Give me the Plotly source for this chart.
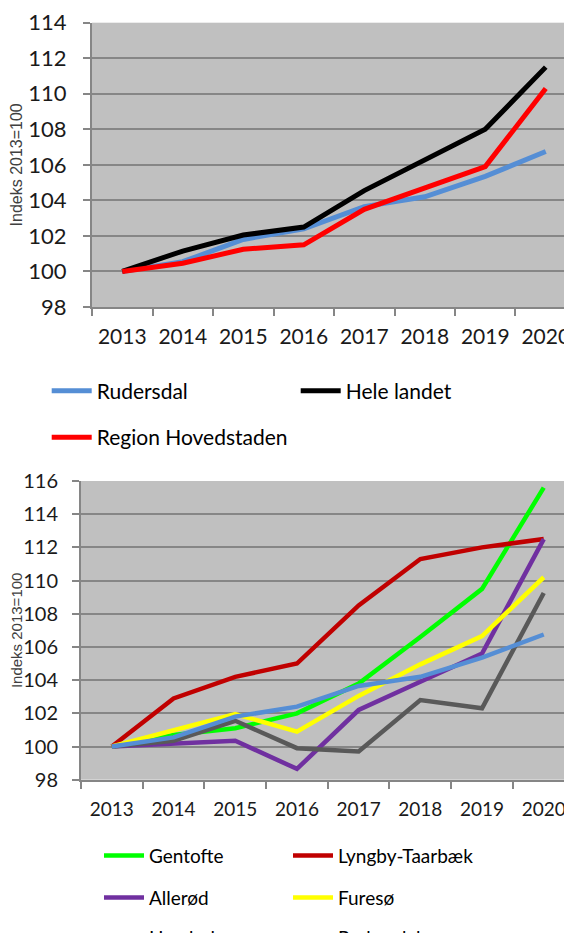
import plotly.graph_objects as go

years = ["2013", "2014", "2015", "2016", "2017", "2018", "2019", "2020"]

# Top chart
rudersdal = [100, 100.55, 101.8, 102.4, 103.65, 104.2, 105.35, 106.75]
hele_landet = [100, 101.15, 102.05, 102.5, 104.55, 106.3, 108.0, 111.5]
region_hovedstaden = [100, 100.46, 101.25, 101.5, 103.5, 104.7, 105.9, 110.3]

# Bottom chart
gentofte = [100, 100.7, 101.1, 102.0, 103.8, 106.6, 109.5, 115.6]
lyngby_taarbaek = [100, 102.9, 104.2, 105.0, 108.5, 111.3, 112.0, 112.5]
allerod = [100, 100.15, 100.35, 98.65, 102.2, 103.9, 105.6, 112.5]
fureso = [100, 101.0, 101.95, 100.9, 103.05, 104.95, 106.65, 110.2]
horsholm = [100, 100.35, 101.55, 99.9, 99.7, 102.8, 102.3, 109.25]

y_title = "Indeks 2013=100"

# the page body has an 8px default margin, so the figure is sized to fill the rest
OFF = 8
W, H = 572 - OFF, 933 - OFF
FONT = "Lato"
GRID = "#868686"


def fx(p):
    return (p - OFF) / W


def fy(p):
    return 1 - (p - OFF) / H


fig = go.Figure()


def add(y, name, color, xa, ya, leg, width):
    fig.add_trace(go.Scatter(
        x=years, y=y, name=name, mode="lines",
        line=dict(color=color, width=width),
        xaxis=xa, yaxis=ya, legend=leg, showlegend=True,
        hoverinfo="skip",
    ))


add(rudersdal, "Rudersdal", "#558ED5", "x", "y", "legend", 5)
add(hele_landet, "Hele landet", "#000000", "x", "y", "legend", 5)
add(region_hovedstaden, "Region Hovedstaden", "#FF0000", "x", "y", "legend2", 5)

add(gentofte, "Gentofte", "#00FF00", "x2", "y2", "legend3", 4.5)
add(lyngby_taarbaek, "Lyngby-Taarbæk", "#C00000", "x2", "y2", "legend3", 4.5)
add(allerod, "Allerød", "#7030A0", "x2", "y2", "legend4", 4.5)
add(fureso, "Furesø", "#FFFF00", "x2", "y2", "legend4", 4.5)
add(horsholm, "Hørsholm", "#595959", "x2", "y2", "legend5", 4.5)
add(rudersdal, "Rudersdal", "#558ED5", "x2", "y2", "legend5", 4.5)

xcommon = dict(
    type="category", showgrid=False, showline=True, linecolor=GRID, linewidth=2,
    ticks="outside", ticklen=7, tickwidth=2, tickcolor=GRID, tickson="boundaries",
    zeroline=False, fixedrange=True,
)
ycommon = dict(
    showgrid=True, gridcolor=GRID, gridwidth=2, showline=True, linecolor=GRID,
    linewidth=2, ticks="outside", ticklen=7, tickwidth=2, tickcolor=GRID,
    zeroline=False, dtick=2, fixedrange=True,
)

fig.update_layout(
    width=W, height=H,
    margin=dict(l=0, r=0, t=0, b=0, autoexpand=False),
    paper_bgcolor="white", plot_bgcolor="#C0C0C0",
    xaxis=dict(xcommon, domain=[fx(92), 1], anchor="y", range=[-0.5, 7.434],
               tickfont=dict(family=FONT, size=21, color="#1a1a1a"),
               ticklabelstandoff=10),
    yaxis=dict(ycommon, domain=[fy(307), fy(22.7)], anchor="x", range=[98, 114],
               tickfont=dict(family=FONT, size=22, color="#1a1a1a"),
               ticklabelstandoff=12,
               title=dict(text=y_title, standoff=8,
                          font=dict(family="Liberation Sans", size=16, color="#404040"))),
    xaxis2=dict(xcommon, domain=[fx(81), 1], anchor="y2", range=[-0.5, 7.458],
                tickfont=dict(family=FONT, size=19, color="#1a1a1a"),
                ticklabelstandoff=11),
    yaxis2=dict(ycommon, domain=[fy(779.7), fy(481)], anchor="x2", range=[98, 116],
                tickfont=dict(family=FONT, size=20, color="#1a1a1a"),
                ticklabelstandoff=10,
                title=dict(text=y_title, standoff=8,
                           font=dict(family="Liberation Sans", size=15, color="#404040"))),
)


def leg(text_x, ypix, size, entry):
    return dict(
        orientation="h", x=fx(text_x - 50), xanchor="left", y=fy(ypix), yanchor="middle",
        entrywidth=entry, entrywidthmode="pixels", itemwidth=40,
        font=dict(family=FONT, size=size, color="#000000"),
        bgcolor="rgba(0,0,0,0)", borderwidth=0, traceorder="normal",
        itemclick=False, itemdoubleclick=False,
    )


fig.update_layout(
    legend=leg(96.7, 391, 21, 194),
    legend2=leg(96.7, 437.5, 21, 194),
    legend3=leg(149, 855.7, 19, 134),
    legend4=leg(149, 897.7, 19, 134),
    legend5=leg(149, 937.8, 19, 134),
)

fig.write_html("out.html", config=dict(displayModeBar=False))
